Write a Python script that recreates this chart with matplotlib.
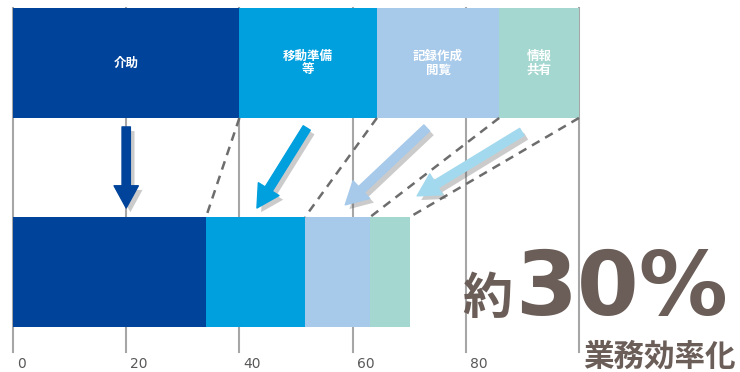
import matplotlib
matplotlib.use('Agg')
import matplotlib.pyplot as plt
import matplotlib.transforms as mtransforms
import matplotlib.patheffects as pe
from matplotlib.patches import FancyArrowPatch
import numpy as np

plt.rcParams['font.family'] = ['Noto Sans CJK JP', 'DejaVu Sans']

# データ
categories = ['介助', '移動準備\n等', '記録作成\n閲覧', '情報\n共有']
before = [40.0, 24.3, 21.6, 14.1]
after = [34.1, 17.5, 11.5, 7.0]
colors = ['#00439A', '#009FDE', '#A7C9EA', '#A4D7CF']
arrow_colors = ['#00439A', '#009FDE', '#A7C9EA', '#A3D9EE']
xticks = [0, 20, 40, 60, 80, 100]
xtick_labels = ['0', '20', '40', '60', '80', '']  # 100 は「業務効率化」に隠れている
# 矢印 (始点x, 始点y, 終点x, 終点y)
arrows = [(20.0, 0.694, 20.0, 0.306),
          (51.9, 0.689, 43.1, 0.306),
          (73.1, 0.689, 58.7, 0.321),
          (89.9, 0.670, 71.4, 0.364)]

bar_h = 0.526
y_before, y_after = 1, 0

fig = plt.figure(figsize=(7.4, 3.72), dpi=100)
ax = fig.add_axes([13 / 740, 20 / 372, 566 / 740, 344 / 372])
ax.set_xlim(0, 100)
ax.set_ylim(-0.383, 1.263)
ax.axis('off')

for x in xticks:
    ax.axvline(x, color='#A6A6A6', lw=1.5, zorder=0, clip_on=False)

left_b = np.concatenate([[0], np.cumsum(before)[:-1]])
left_a = np.concatenate([[0], np.cumsum(after)[:-1]])
ax.barh(y_before, before, left=left_b, height=bar_h, color=colors, zorder=2)
ax.barh(y_after, after, left=left_a, height=bar_h, color=colors, zorder=2)

for lbl, l, w in zip(categories, left_b, before):
    ax.text(l + w / 2, y_before, lbl, ha='center', va='center', color='white',
            fontsize=9, fontweight='bold', linespacing=1.1, zorder=3)

# 破線
cb = np.cumsum(before)
ca = np.cumsum(after)
for xb, xa in zip(cb, ca):
    ax.plot([xb, xa], [y_before - bar_h / 2, y_after + bar_h / 2], color='#6D6D6D',
            lw=1.8, dashes=(3.5, 2.6), zorder=3, clip_on=False)

# 矢印
for (x0, y0, x1, y1), c in zip(arrows, arrow_colors):
    arr = FancyArrowPatch((x0, y0), (x1, y1),
                          arrowstyle='simple,head_length=1.6,head_width=1.75,tail_width=0.6',
                          mutation_scale=10, color=c, shrinkA=0, shrinkB=0, zorder=4,
                          path_effects=[pe.SimplePatchShadow(offset=(3, -3), shadow_rgbFace='#555555', alpha=0.3),
                                        pe.Normal()])
    ax.add_patch(arr)

# 目盛りラベル
trans = mtransforms.blended_transform_factory(ax.transData, fig.transFigure)
trans = trans + mtransforms.ScaledTranslation(4 / 100, 0, fig.dpi_scale_trans)
for x, lbl in zip(xticks, xtick_labels):
    if lbl:
        ax.text(x, 1 - 364 / 372, lbl, transform=trans, ha='left', va='center',
                fontsize=10, color='#595959', family='DejaVu Sans')

txt_color = '#6B5E58'
fig.text(487 / 740, 1 - 314 / 372, '約', ha='center', va='baseline', fontsize=36,
         fontweight='bold', color=txt_color, zorder=5)
fig.text(515 / 740, 1 - 315 / 372, '30%', ha='left', va='baseline', fontsize=64,
         fontweight='bold', color=txt_color, family='DejaVu Sans', zorder=5)
fig.text(659 / 740, 1 - 357 / 372, '業務効率化', ha='center', va='center', fontsize=22,
         fontweight='bold', color=txt_color, zorder=5)

fig.savefig('out.png', dpi=100)
